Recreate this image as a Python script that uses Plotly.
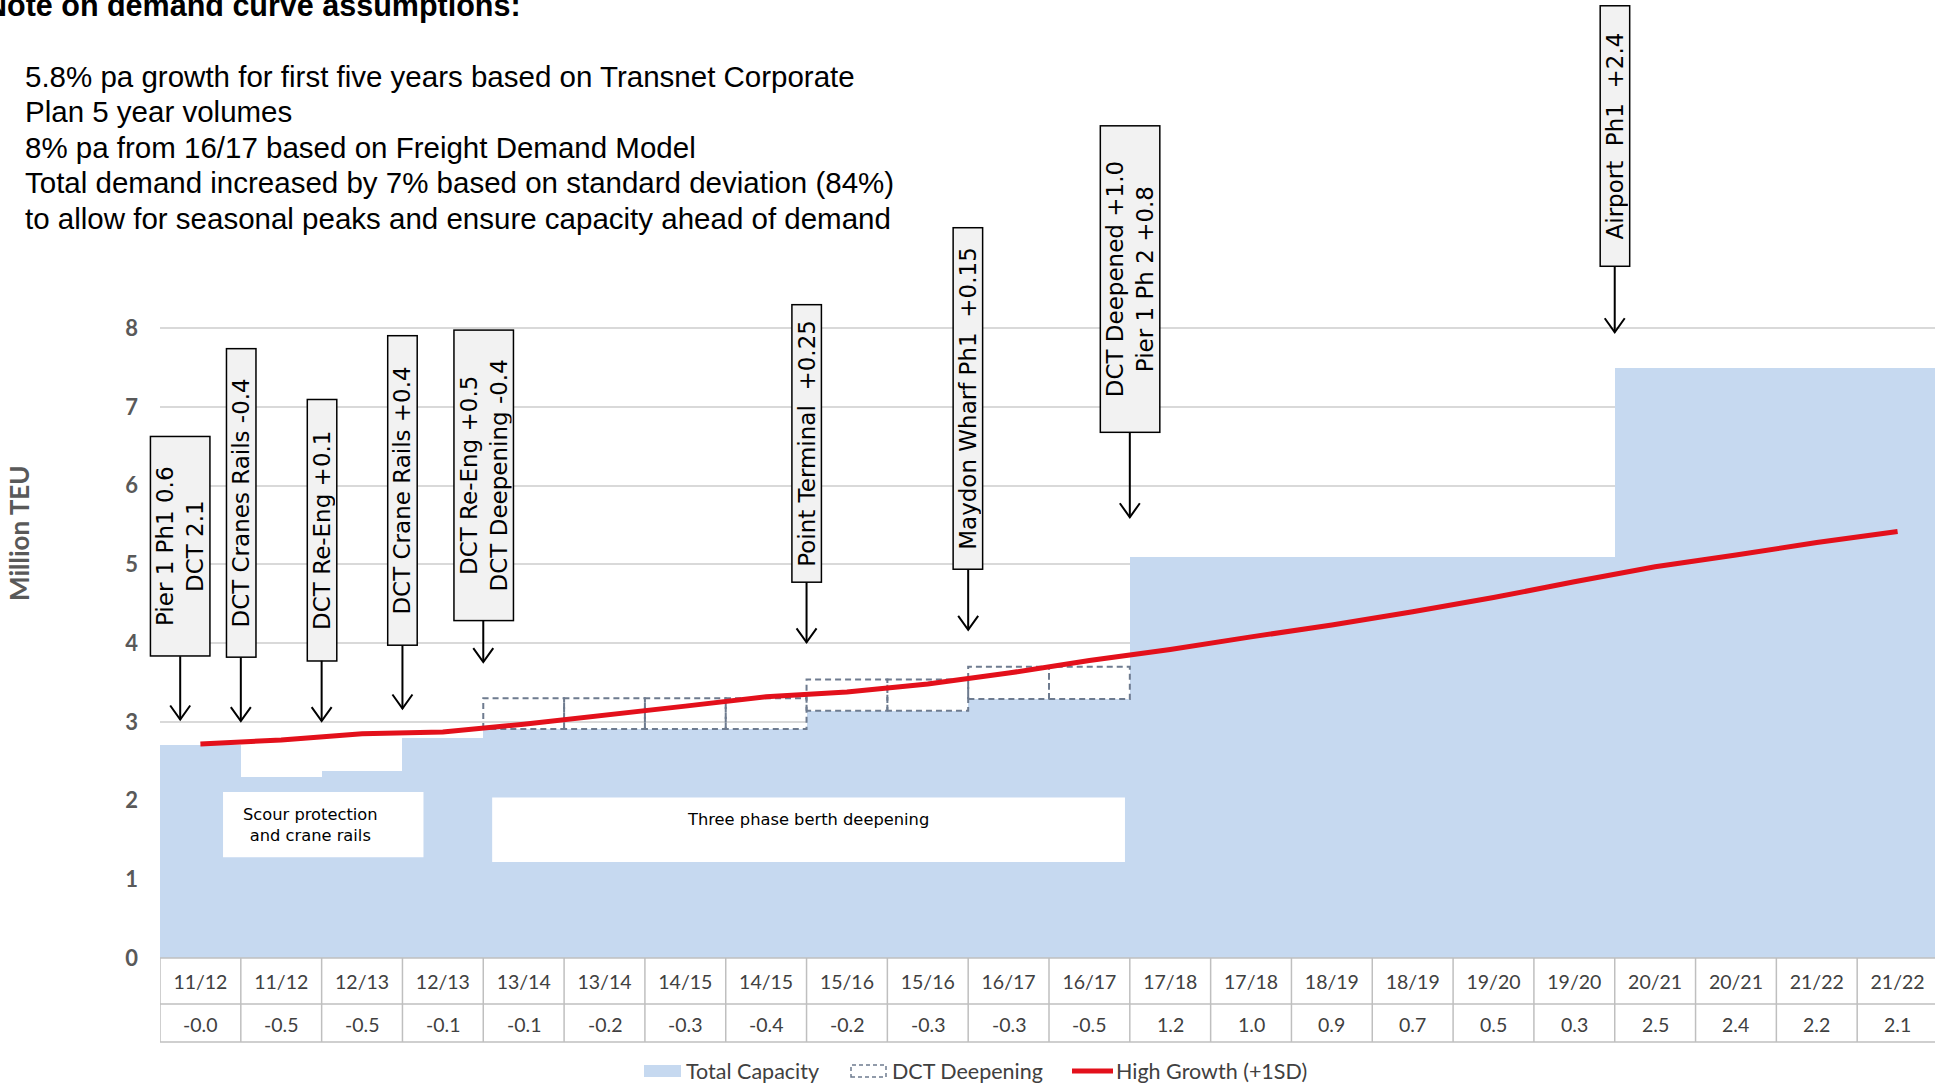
import plotly.graph_objects as go

# ---- data -----------------------------------------------------------------
categories = ["11/12", "11/12", "12/13", "12/13", "13/14", "13/14", "14/15", "14/15",
              "15/16", "15/16", "16/17", "16/17", "17/18", "17/18", "18/19", "18/19",
              "19/20", "19/20", "20/21", "20/21", "21/22", "21/22"]

# Million TEU per half-year column
total_capacity = [2.70, 2.30, 2.38, 2.79, 2.91, 2.91, 2.91, 2.91, 3.14, 3.14, 3.29,
                  3.29, 5.10, 5.10, 5.10, 5.10, 5.10, 5.10, 7.50, 7.50, 7.50, 7.50]
dct_deepening = [0, 0, 0, 0, 0.39, 0.39, 0.39, 0.39, 0.40, 0.40, 0.41, 0.41,
                 0, 0, 0, 0, 0, 0, 0, 0, 0, 0]
high_growth = [2.72, 2.77, 2.85, 2.87, 2.97, 3.08, 3.20, 3.32, 3.38, 3.48, 3.62,
               3.78, 3.92, 4.08, 4.23, 4.40, 4.58, 4.78, 4.97, 5.12, 5.28, 5.42]
# capacity surplus / shortfall shown in the data table
surplus = [-0.0, -0.5, -0.5, -0.1, -0.1, -0.2, -0.3, -0.4, -0.2, -0.3, -0.3,
           -0.5, 1.2, 1.0, 0.9, 0.7, 0.5, 0.3, 2.5, 2.4, 2.2, 2.1]

project_labels = ["Pier 1 Ph1 0.6<br>DCT 2.1",
                  "DCT Cranes Rails -0.4",
                  "DCT Re-Eng +0.1",
                  "DCT Crane Rails +0.4",
                  "DCT Re-Eng +0.5<br>DCT Deepening -0.4",
                  "Point Terminal\u00a0 +0.25",
                  "Maydon Wharf Ph1\u00a0 +0.15",
                  "DCT Deepened +1.0<br>Pier 1 Ph 2 +0.8",
                  "Airport\u00a0 Ph1\u00a0 +2.4"]
project_x = [-0.25, 0.5, 1.5, 2.5, 3.5, 7.5, 9.5, 11.5, 17.5]
project_y = [3.03, 3.01, 3.01, 3.17, 3.76, 4.01, 4.17, 5.60, 7.95]

series_names = ["Total Capacity", "DCT Deepening", "High Growth (+1SD)"]

note_title = "Note on demand curve assumptions:"
note_lines = ["5.8% pa growth for first five years based on Transnet Corporate",
              "Plan 5 year volumes",
              "8% pa from 16/17 based on Freight Demand Model",
              "Total demand increased by 7% based on standard deviation (84%)",
              "to allow for seasonal peaks and ensure capacity ahead of demand"]

# ---- styling ---------------------------------------------------------------
CAP_COLOR = "#C6D9F0"
DEEP_COLOR = "#6E7B8F"
RED = "#E3101B"
TABLE_COLOR = "#BFBFBF"
TEXT_GREY = "#404040"

# ---- figure geometry -------------------------------------------------------
W, H = 1935, 1088
ML, MB = 160, 130
UNIT_PX = 78.7            # pixels per Million TEU
COL_PX = 80.82            # pixels per column
Y_MAX = 8.5               # head-room above the top gridline for the arrow tips
PLOT_H = UNIT_PX * Y_MAX
MT = H - MB - PLOT_H
PLOT_W = W - ML


def py(v):
    """pixel row -> paper y"""
    return (H - MB - v) / PLOT_H


def px(v):
    """pixel column -> paper x"""
    return (v - ML) / PLOT_W


idx = list(range(len(categories)))

fig = go.Figure()

fig.add_trace(go.Bar(
    x=idx, y=total_capacity, width=1.0, name=series_names[0],
    marker=dict(color=CAP_COLOR, line=dict(width=0)),
    showlegend=False, hoverinfo="skip",
))

# dashed outline for each column of the deepening block, stacked on capacity
dx, dy = [], []
for i, (base, d) in enumerate(zip(total_capacity, dct_deepening)):
    if d > 0:
        top = base + d
        dx += [i - 0.5, i - 0.5, i + 0.5, i + 0.5, i - 0.5, None]
        dy += [base, top, top, base, base, None]
fig.add_trace(go.Scatter(
    x=dx, y=dy, mode="lines", name=series_names[1],
    line=dict(color=DEEP_COLOR, width=2, dash="6px,4px"),
    showlegend=False, hoverinfo="skip",
))

fig.add_trace(go.Scatter(
    x=idx, y=high_growth, mode="lines", name=series_names[2],
    line=dict(color=RED, width=5),
    showlegend=False, hoverinfo="skip",
))

# ---- callout boxes with arrows --------------------------------------------
callout_geom = [(-173, 221), (-218, 310), (-191, 263), (-218, 311), (-187, 292),
                (-199, 279), (-231, 343), (-238, 308), (-196, 262)]
annotations = []
shapes = []
head_dx = 10 / COL_PX     # open "V" arrow head: half width / height in data units
head_dy = 14 / UNIT_PX
for text, x, y, (ay, length) in zip(project_labels, project_x, project_y, callout_geom):
    annotations.append(dict(
        x=x, y=y, xref="x", yref="y", text=text, textangle=-90,
        showarrow=True, arrowhead=0, arrowwidth=2, arrowcolor="black",
        ax=0, ay=ay,
        font=dict(family="DejaVu Sans", size=23, color="black"),
        bgcolor="#F2F2F2", bordercolor="black", borderwidth=1.5, borderpad=1,
        width=length - 5, align="center",
    ))
    shapes.append(dict(
        type="path", xref="x", yref="y", layer="above",
        path=(f"M {x - head_dx},{y + head_dy} L {x},{y} "
              f"L {x + head_dx},{y + head_dy}"),
        line=dict(color="black", width=2),
    ))

# ---- white text panels inside the capacity area -----------------------------
shapes += [
    dict(type="rect", xref="x", yref="y", x0=0.28, x1=2.76, y0=1.28, y1=2.11,
         fillcolor="white", line=dict(width=0), layer="above"),
    dict(type="rect", xref="x", yref="y", x0=3.61, x1=11.44, y0=1.22, y1=2.04,
         fillcolor="white", line=dict(width=0), layer="above"),
]
annotations.append(dict(x=1.36, y=1.695, xref="x", yref="y", showarrow=False,
                        text="Scour protection<br>and crane rails",
                        xanchor="center", yanchor="middle",
                        font=dict(family="DejaVu Sans", size=16.3, color="black")))
annotations.append(dict(x=7.52, y=1.76, xref="x", yref="y", showarrow=False,
                        text="Three phase berth deepening",
                        xanchor="center", yanchor="middle",
                        font=dict(family="DejaVu Sans", size=16.3, color="black")))

# ---- data table below the axis ---------------------------------------------
row_lines = [0.0, py(1004), py(1042)]
for yv in row_lines:
    shapes.append(dict(type="line", xref="x", yref="paper", x0=-0.5, x1=len(idx) - 0.5,
                       y0=yv, y1=yv, line=dict(color=TABLE_COLOR, width=1.5)))
for i in range(len(idx) + 1):
    shapes.append(dict(type="line", xref="x", yref="paper", x0=i - 0.5, x1=i - 0.5,
                       y0=0, y1=row_lines[-1], line=dict(color=TABLE_COLOR, width=1.5)))
for i, v in enumerate(surplus):
    annotations.append(dict(x=i, y=py(1024), xref="x", yref="paper", showarrow=False,
                            text=f"{v:.1f}", xanchor="center", yanchor="middle",
                            font=dict(family="Lato", size=19.5, color=TEXT_GREY)))

# ---- legend row -------------------------------------------------------------
LEG_Y = 1071
shapes += [
    dict(type="rect", xref="paper", yref="paper", x0=px(644), x1=px(681),
         y0=py(1077), y1=py(1065), fillcolor=CAP_COLOR, line=dict(width=0)),
    dict(type="rect", xref="paper", yref="paper", x0=px(851), x1=px(886),
         y0=py(1077), y1=py(1065), fillcolor="rgba(0,0,0,0)",
         line=dict(color=DEEP_COLOR, width=1.5, dash="4px,3px")),
    dict(type="line", xref="paper", yref="paper", x0=px(1072), x1=px(1113),
         y0=py(LEG_Y), y1=py(LEG_Y), line=dict(color=RED, width=5)),
]
for name, lx in zip(series_names, [684, 890, 1114]):
    annotations.append(dict(x=px(lx), y=py(LEG_Y), xref="paper", yref="paper",
                            showarrow=False, text=name, xanchor="left", yanchor="middle",
                            font=dict(family="Lato", size=21.5, color=TEXT_GREY)))

# ---- axis title and notes --------------------------------------------------
annotations.append(dict(x=px(19), y=py(533), xref="paper", yref="paper",
                        showarrow=False, text="Million TEU", textangle=-90,
                        xanchor="center", yanchor="middle",
                        font=dict(family="Lato", size=26, color="#595959", weight="bold")))

annotations.append(dict(x=px(523), y=py(6), xref="paper", yref="paper",
                        showarrow=False, text=note_title,
                        xanchor="right", yanchor="middle",
                        font=dict(family="Liberation Sans", size=30.5, color="black",
                                  weight="bold")))
for k, line in enumerate(note_lines):
    annotations.append(dict(x=px(23), y=py(76.5 + 35.5 * k),
                            xref="paper", yref="paper", showarrow=False, text=line,
                            xanchor="left", yanchor="middle",
                            font=dict(family="Liberation Sans", size=29.5, color="black")))

fig.update_layout(
    template="none",
    width=W, height=H,
    margin=dict(l=ML, r=0, t=MT, b=MB, autoexpand=False),
    paper_bgcolor="white", plot_bgcolor="white",
    barmode="overlay", bargap=0,
    showlegend=False,
    xaxis=dict(range=[-0.5, len(idx) - 0.5 - 3 / COL_PX], tickvals=idx,
               ticktext=categories,
               showgrid=False, zeroline=False, showline=False, ticks="",
               tickfont=dict(family="Lato", size=19.5, color=TEXT_GREY),
               ticklabelstandoff=10, fixedrange=True),
    yaxis=dict(range=[0, Y_MAX], tickvals=list(range(9)), showgrid=True,
               gridcolor="#D9D9D9", gridwidth=2, zeroline=False, showline=False,
               ticks="", tickfont=dict(family="Lato", size=22, color="#595959",
                                       weight="bold"),
               ticklabelstandoff=21, fixedrange=True),
    shapes=shapes,
    annotations=annotations,
)

fig.write_html("out.html")
